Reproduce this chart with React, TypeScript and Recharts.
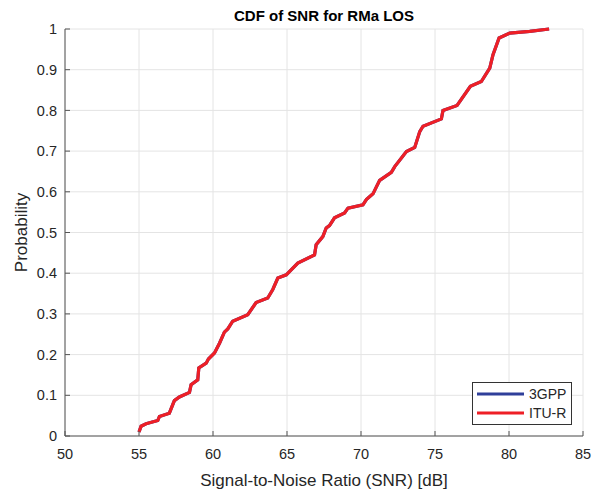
import React from "react";
import { LineChart, Line, XAxis, YAxis, CartesianGrid, Legend } from "recharts";

const snrValues = [
  55.0, 55.14, 55.48, 56.27, 56.38, 57.05, 57.39, 57.73, 58.41, 58.52, 58.97, 59.04, 59.54, 59.69,
  60.1, 60.44, 60.77, 61.0, 61.33, 62.35, 62.91, 63.7, 64.04, 64.38, 64.95, 65.73, 66.86, 66.97,
  67.42, 67.65, 67.87, 68.21, 68.89, 69.12, 70.13, 70.36, 70.81, 71.04, 71.26, 72.05, 72.28,
  73.07, 73.63, 73.97, 74.19, 75.43, 75.54, 76.49, 77.39, 78.13, 78.7, 78.92, 79.33, 80.05, 81.4,
  82.71,
];
const ituProb = [
  0.01, 0.024, 0.03, 0.038, 0.048, 0.056, 0.087, 0.096, 0.107, 0.126, 0.138, 0.167, 0.179, 0.189,
  0.204, 0.228, 0.255, 0.263, 0.282, 0.298, 0.328, 0.339, 0.36, 0.388, 0.396, 0.425, 0.445, 0.47,
  0.49, 0.511, 0.517, 0.536, 0.548, 0.56, 0.568, 0.581, 0.595, 0.612, 0.628, 0.648, 0.662,
  0.699, 0.709, 0.748, 0.761, 0.779, 0.8, 0.812, 0.859, 0.871, 0.904, 0.937, 0.978, 0.99, 0.994,
  1.0,
];
const gppProb = ituProb;
const xTicks = [50, 55, 60, 65, 70, 75, 80, 85];
const yTicks = [0, 0.1, 0.2, 0.3, 0.4, 0.5, 0.6, 0.7, 0.8, 0.9, 1];
const seriesNames = ["3GPP", "ITU-R"];
const seriesColors = ["#2f3f9a", "#ee1f26"];

const data = snrValues.map((s, i) => ({ snr: s, gpp: gppProb[i], itu: ituProb[i] }));

const FONT = "'Liberation Sans', Arial, Helvetica, sans-serif";
const TICK_FONT = 14.5;
const TICK_MARGIN_X = 13;
const TICK_MARGIN_Y = 8;

const XTick = (props: any) => {
  const { x, y, payload } = props;
  const axisY = y - TICK_MARGIN_X;
  return (
    <g>
      <line x1={x} x2={x} y1={axisY} y2={axisY - 5} stroke="#555" strokeWidth={1} />
      <text x={x} y={y} dy="0.71em" textAnchor="middle" fontSize={TICK_FONT} fill="#262626" fontFamily={FONT}>
        {String(payload.value)}
      </text>
    </g>
  );
};

const YTick = (props: any) => {
  const { x, y, payload } = props;
  const axisX = x + TICK_MARGIN_Y;
  return (
    <g>
      <line x1={axisX} x2={axisX + 5} y1={y} y2={y} stroke="#555" strokeWidth={1} />
      <text x={x} y={y} dy="0.355em" textAnchor="end" fontSize={TICK_FONT} fill="#262626" fontFamily={FONT}>
        {String(payload.value)}
      </text>
    </g>
  );
};

const LegendBox = () => (
  <div
    style={{
      width: 100,
      height: 43,
      border: "1px solid #333",
      background: "#fff",
      boxSizing: "border-box",
      fontFamily: FONT,
      fontSize: 14,
      color: "#262626",
      paddingTop: 1,
    }}
  >
    {seriesNames.map((n, i) => (
      <div key={n} style={{ display: "flex", alignItems: "center", height: 19.5 }}>
        <svg width={52} height={10} style={{ marginLeft: 4 }}>
          <line x1={0} x2={47} y1={5} y2={5} stroke={seriesColors[i]} strokeWidth={3} />
        </svg>
        <span>{n}</span>
      </div>
    ))}
  </div>
);

export default function App() {
  return (
    <div style={{ position: "absolute", left: 0, top: 0, width: 600, height: 489, background: "#fff" }}>
      <div
        style={{
          position: "absolute",
          left: 65,
          width: 518,
          top: 6,
          textAlign: "center",
          fontFamily: FONT,
          fontWeight: "bold",
          fontSize: 15,
          lineHeight: "20px",
          color: "#000",
        }}
      >
        CDF of SNR for RMa LOS
      </div>
      <LineChart width={600} height={489} data={data} margin={{ top: 29, right: 17, bottom: 0, left: 0 }}>
        <CartesianGrid stroke="#e4e4e4" strokeWidth={1} />
        <XAxis
          dataKey="snr"
          type="number"
          domain={[50, 85]}
          ticks={xTicks}
          interval={0}
          height={53}
          tickSize={0}
          tickMargin={TICK_MARGIN_X}
          tick={<XTick />}
          axisLine={{ stroke: "#555", strokeWidth: 1 }}
          label={{
            value: "Signal-to-Noise Ratio (SNR) [dB]",
            position: "insideBottom",
            offset: 3,
            style: { fontFamily: FONT, fontSize: 17, fill: "#262626" },
          }}
        />
        <YAxis
          type="number"
          domain={[0, 1]}
          ticks={yTicks}
          interval={0}
          width={65}
          tickSize={0}
          tickMargin={TICK_MARGIN_Y}
          tick={<YTick />}
          axisLine={{ stroke: "#555", strokeWidth: 1 }}
          label={{
            value: "Probability",
            angle: -90,
            position: "insideLeft",
            offset: 21,
            style: { textAnchor: "middle", fontFamily: FONT, fontSize: 17, fill: "#262626" },
          }}
        />
        <Legend
          layout="horizontal"
          verticalAlign="middle"
          align="center"
          content={<LegendBox />}
          wrapperStyle={{ position: "absolute", left: 472, top: 382, width: 100, height: 43 }}
        />
        <Line
          dataKey="gpp"
          name={seriesNames[0]}
          stroke={seriesColors[0]}
          strokeWidth={3.2}
          dot={false}
          type="linear"
          isAnimationActive={false}
        />
        <Line
          dataKey="itu"
          name={seriesNames[1]}
          stroke={seriesColors[1]}
          strokeWidth={3.2}
          dot={false}
          type="linear"
          isAnimationActive={false}
        />
      </LineChart>
    </div>
  );
}
